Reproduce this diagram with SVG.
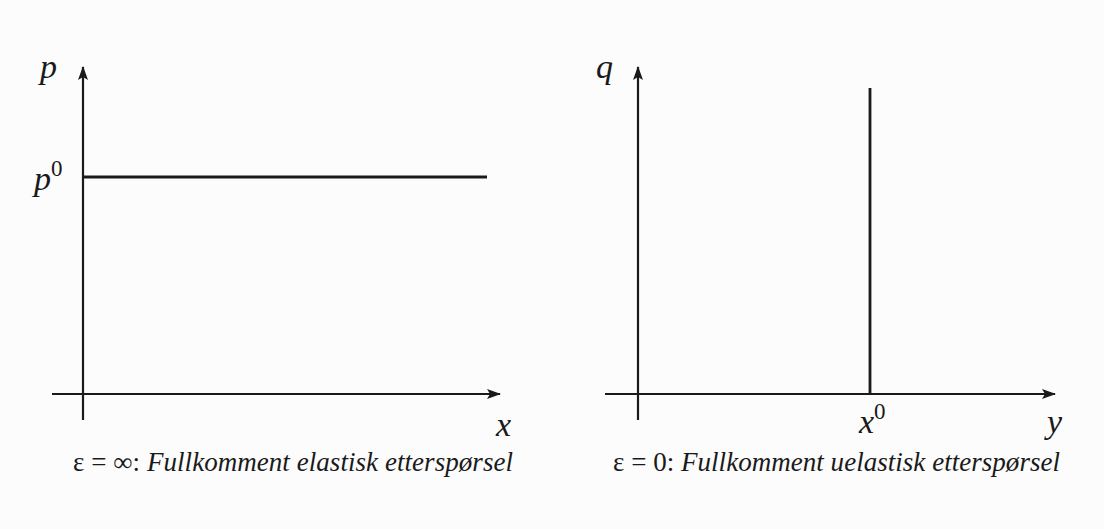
<svg xmlns="http://www.w3.org/2000/svg" width="1104" height="529" viewBox="0 0 1104 529">
<style>
.ax{stroke:#1a1a1a;stroke-width:2.2;fill:none}
.ln{stroke:#1a1a1a;stroke-width:2.8;fill:none}
text{font-family:'Liberation Serif','DejaVu Serif','Times New Roman',serif;fill:#1a1a1a}
.lbl{font-style:italic;font-size:34px}
.sup{font-style:normal;font-size:23px}
.cap{font-style:italic;font-size:27px}
.capn{font-style:normal;font-size:27px}
</style>
<defs>
<marker id="ah" markerWidth="14" markerHeight="10" refX="13" refY="5" orient="auto" markerUnits="userSpaceOnUse">
<path d="M0,0 L14,5 L0,10 L3,5 Z" fill="#1a1a1a"/>
</marker>
</defs>
<rect width="1104" height="529" fill="#fcfcfc"/>
<g id="connectors">
<line class="ax" x1="83" y1="420" x2="83" y2="67" marker-end="url(#ah)"/>
<line class="ax" x1="52" y1="394" x2="500" y2="394" marker-end="url(#ah)"/>
<line class="ax" x1="638" y1="420" x2="638" y2="67" marker-end="url(#ah)"/>
<line class="ax" x1="605" y1="394" x2="1055" y2="394" marker-end="url(#ah)"/>
</g>
<g id="demand-left"><line class="ln" x1="83" y1="177" x2="487" y2="177"/></g>
<g id="demand-right"><line class="ln" x1="870" y1="88" x2="870" y2="394"/></g>
<g id="labels-left">
<text class="lbl" x="40" y="78">p</text>
<text class="lbl" x="34" y="190">p<tspan class="sup" dy="-14">0</tspan></text>
<text class="lbl" x="496" y="436">x</text>
<text x="73" y="471" textLength="440"><tspan class="capn">ε = ∞: </tspan><tspan class="cap">Fullkomment elastisk etterspørsel</tspan></text>
</g>
<g id="labels-right">
<text class="lbl" x="596" y="78">q</text>
<text class="lbl" x="859" y="433">x<tspan class="sup" dy="-14">0</tspan></text>
<text class="lbl" x="1047" y="433">y</text>
<text x="613" y="471" textLength="447"><tspan class="capn">ε = 0: </tspan><tspan class="cap">Fullkomment uelastisk etterspørsel</tspan></text>
</g>
</svg>
